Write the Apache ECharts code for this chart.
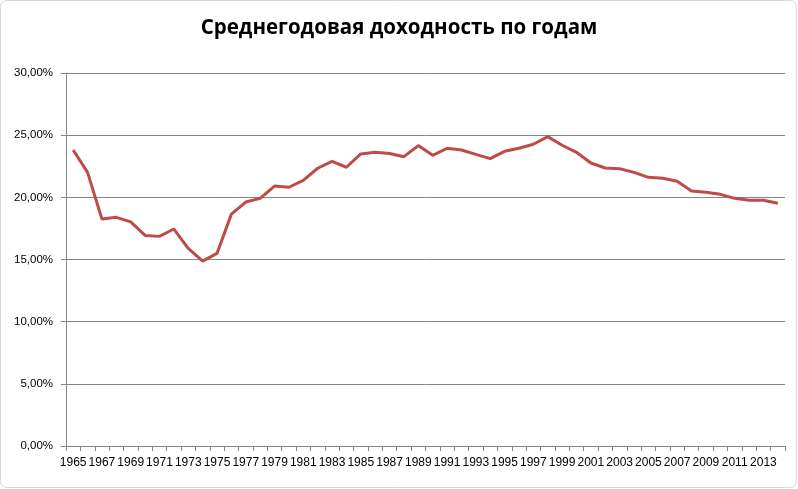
<!DOCTYPE html>
<html>
<head>
<meta charset="utf-8">
<script src="https://cdn.jsdelivr.net/npm/echarts@6/dist/echarts.min.js"></script>
<style>
html,body{margin:0;padding:0;background:#fff;}
#chart{width:798px;height:489px;}
</style>
</head>
<body>
<div id="chart"></div>
<script>
var years = [];
for (var y = 1965; y <= 2014; y++) years.push(String(y));

var returns = [
  23.81, 22.01, 18.25, 18.39, 18.03, 16.94, 16.86, 17.45, 15.89, 14.87,
  15.49, 18.65, 19.62, 19.92, 20.91, 20.81, 21.37, 22.34, 22.90, 22.42,
  23.49, 23.62, 23.52, 23.27, 24.16, 23.38, 23.95, 23.81, 23.46, 23.11,
  23.70, 23.95, 24.27, 24.88, 24.19, 23.62, 22.76, 22.36, 22.30, 22.01,
  21.61, 21.53, 21.29, 20.51, 20.40, 20.24, 19.92, 19.76, 19.76, 19.52
];

var titleText = 'Среднегодовая доходность по годам';

var chart = echarts.init(document.getElementById('chart'));
chart.setOption({
  animation: false,
  backgroundColor: '#ffffff',
  title: {
    text: titleText,
    left: 'center',
    top: 13,
    textStyle: {fontFamily: 'Open Sans', fontWeight: 'bold', fontSize: 20.5, color: '#000'}
  },
  grid: {left: 66, right: 13, top: 73, bottom: 43},
  xAxis: {
    type: 'category',
    data: years,
    boundaryGap: true,
    axisLine: {lineStyle: {color: '#868686', width: 1}},
    axisTick: {show: true, interval: 0, length: 5, lineStyle: {color: '#868686'}},
    axisLabel: {interval: 1, color: '#000', fontFamily: 'Liberation Sans', fontSize: 12, margin: 11},
    splitLine: {show: false}
  },
  yAxis: {
    type: 'value',
    min: 0, max: 30, interval: 5,
    axisLine: {show: true, lineStyle: {color: '#868686', width: 1}},
    axisTick: {show: true, length: 5, lineStyle: {color: '#868686'}},
    axisLabel: {
      color: '#000', fontFamily: 'Liberation Sans', fontSize: 11.5, margin: 13,
      formatter: function (v) { return v.toFixed(2).replace('.', ',') + '%'; }
    },
    splitLine: {show: true, lineStyle: {color: '#868686', width: 1}}
  },
  series: [{
    type: 'line',
    data: returns,
    symbol: 'none',
    smooth: false,
    lineStyle: {color: '#BE4B48', width: 3},
    itemStyle: {color: '#BE4B48'}
  }],
  graphic: [{
    type: 'rect',
    shape: {x: 0.5, y: 0.5, width: 796, height: 487, r: 6},
    style: {fill: 'none', stroke: '#d9d9d9', lineWidth: 1},
    silent: true,
    z: -1
  }]
});
</script>
</body>
</html>
